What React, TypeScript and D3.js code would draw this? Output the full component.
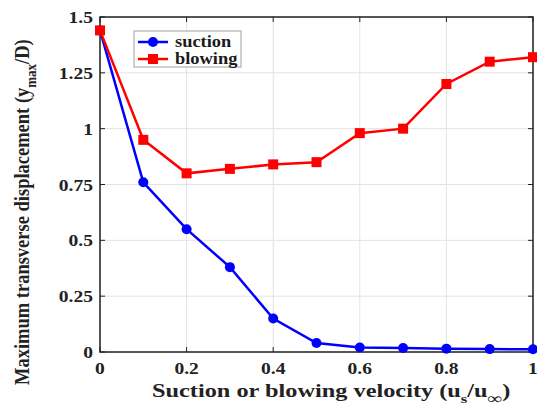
import React from "react";
import * as d3 from "d3";

const xValues = [0, 0.1, 0.2, 0.3, 0.4, 0.5, 0.6, 0.7, 0.8, 0.9, 1.0];
const suction = [1.44, 0.76, 0.55, 0.38, 0.15, 0.04, 0.02, 0.018, 0.015, 0.013, 0.012];
const blowing = [1.44, 0.95, 0.8, 0.82, 0.84, 0.85, 0.98, 1.0, 1.2, 1.3, 1.32];
const xTicks = [0, 0.2, 0.4, 0.6, 0.8, 1];
const yTicks = [0, 0.25, 0.5, 0.75, 1, 1.25, 1.5];
const xTickLabels = ["0", "0.2", "0.4", "0.6", "0.8", "1"];
const yTickLabels = ["0", "0.25", "0.5", "0.75", "1", "1.25", "1.5"];

const W = 537, H = 407;
const L = 100, R = 533, T = 17, B = 352;
const font = "'Liberation Serif', 'Times New Roman', serif";
const SX = 1.15;

export default function App() {
  const x = d3.scaleLinear().domain([0, 1]).range([L, R]);
  const y = d3.scaleLinear().domain([0, 1.5]).range([B, T]);
  const line = d3.line<number>().x((_, i) => x(xValues[i])).y((d) => y(d));
  const axisColor = "#222";
  return (
    <svg width={W} height={H} style={{ position: "absolute", left: 0, top: 0 }} fontFamily={font}>
      <rect width={W} height={H} fill="#fff" />
      {xTicks.map((t) => (
        <line key={"gx" + t} x1={x(t)} x2={x(t)} y1={T} y2={B} stroke="#e3e3e3" strokeWidth={1} />
      ))}
      {yTicks.map((t) => (
        <line key={"gy" + t} x1={L} x2={R} y1={y(t)} y2={y(t)} stroke="#e3e3e3" strokeWidth={1} />
      ))}
      {xTicks.map((t) => (
        <g key={"tx" + t}>
          <line x1={x(t)} x2={x(t)} y1={B} y2={B - 5} stroke={axisColor} strokeWidth={1} />
          <line x1={x(t)} x2={x(t)} y1={T} y2={T + 5} stroke={axisColor} strokeWidth={1} />
        </g>
      ))}
      {yTicks.map((t) => (
        <g key={"ty" + t}>
          <line x1={L} x2={L + 5} y1={y(t)} y2={y(t)} stroke={axisColor} strokeWidth={1} />
          <line x1={R} x2={R - 5} y1={y(t)} y2={y(t)} stroke={axisColor} strokeWidth={1} />
        </g>
      ))}
      <rect x={L} y={T} width={R - L} height={B - T} fill="none" stroke={axisColor} strokeWidth={1.5} />
      {xTicks.map((t, i) => (
        <text key={"lx" + t} transform={`translate(${x(t)},${B + 22}) scale(${SX},1)`} textAnchor="middle" fontSize={17} fontWeight="bold" fill={axisColor}>
          {xTickLabels[i]}
        </text>
      ))}
      {yTicks.map((t, i) => (
        <text key={"ly" + t} transform={`translate(${L - 7},${y(t) + 6}) scale(${SX},1)`} textAnchor="end" fontSize={17} fontWeight="bold" fill={axisColor}>
          {yTickLabels[i]}
        </text>
      ))}
      <path d={line(suction) || ""} fill="none" stroke="#0000ff" strokeWidth={2.5} />
      {suction.map((v, i) => (
        <circle key={"s" + i} cx={x(xValues[i])} cy={y(v)} r={5} fill="#0000ff" />
      ))}
      <path d={line(blowing) || ""} fill="none" stroke="#ff0000" strokeWidth={2.5} />
      {blowing.map((v, i) => (
        <rect key={"b" + i} x={x(xValues[i]) - 5} y={y(v) - 5} width={10} height={10} fill="#ff0000" />
      ))}
      <g>
        <rect x={134} y={31} width={107} height={36} fill="#fff" stroke="#a0a0a0" strokeWidth={1} />
        <line x1={138} x2={168} y1={42} y2={42} stroke="#0000ff" strokeWidth={2.5} />
        <circle cx={153} cy={42} r={5} fill="#0000ff" />
        <text transform={`translate(175,47) scale(${SX},1)`} fontSize={16} fontWeight="bold" fill="#1a1a1a">suction</text>
        <line x1={138} x2={168} y1={59} y2={59} stroke="#ff0000" strokeWidth={2.5} />
        <rect x={148} y={54} width={10} height={10} fill="#ff0000" />
        <text transform={`translate(175,64) scale(${SX},1)`} fontSize={16} fontWeight="bold" fill="#1a1a1a">blowing</text>
      </g>
      <text transform={`translate(152,397) scale(1.28,1)`} fontSize={19} fontWeight="bold" fill={axisColor}>
        Suction or blowing velocity (u
        <tspan fontSize={13} dy={6}>s</tspan>
        <tspan dy={-6}>/u</tspan>
        <tspan fontSize={16} dy={7}>{"\u221E"}</tspan>
        <tspan dy={-7}>)</tspan>
      </text>
      <g transform={`translate(0,0) scale(${SX},1)`}>
        <text transform={`translate(${29 / SX}, 385) rotate(-90)`} fontSize={18.5} fontWeight="bold" fill={axisColor}>
          Maximum transverse displacement (y
          <tspan fontSize={13} dy={6}>max</tspan>
          <tspan dy={-6}>/D)</tspan>
        </text>
      </g>
    </svg>
  );
}
